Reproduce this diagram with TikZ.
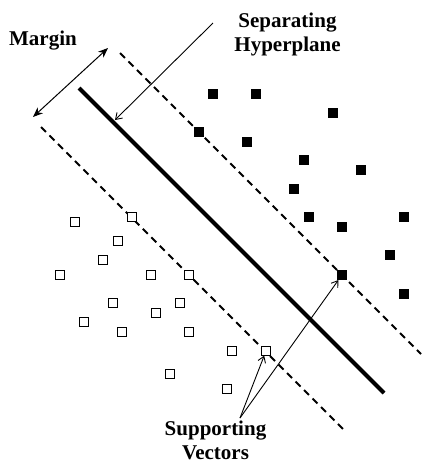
\documentclass[tikz,border=0pt]{standalone}
\usepackage{fontspec}
\setmainfont{Liberation Serif}
\newfontfamily\lblbold{Liberation Serif Bold}
\usetikzlibrary{arrows.meta}
\begin{document}
\begin{tikzpicture}[x=1pt,y=-1pt,
  fsq/.style={fill=black,draw=none,minimum size=10pt,inner sep=0pt,outer sep=0pt},
  osq/.style={draw=black,fill=white,line width=0.8pt,minimum size=9.2pt,inner sep=0pt,outer sep=0pt},
  lbl/.style={font=\lblbold\fontsize{21}{24}\selectfont,anchor=base,inner sep=0pt},
  hyper/.style={line width=4pt},
  marginline/.style={line width=1.8pt,dash pattern=on 7pt off 5pt},
  pointer/.style={line width=0.9pt,-{Straight Barb[length=6pt,width=8pt]}},
  dblarrow/.style={line width=1pt,{Stealth[length=10pt,width=8pt]}-{Stealth[length=10pt,width=8pt]}}
]
\useasboundingbox (0,0) rectangle (422,464);

% lines
\coordinate (h1) at (79,88);
\coordinate (h2) at (384,393);
\coordinate (u1) at (120,53);
\coordinate (u2) at (421,354);
\coordinate (l1) at (41,127);
\coordinate (l2) at (345,431);
\draw[hyper] (h1) -- (h2);
\draw[marginline] (u1) -- (u2);
\draw[marginline] (l1) -- (l2);

% filled squares
\foreach \n/\x/\y in {f1/213/94,f2/256/94,f3/333/113,f4/199/132,f5/247/142,f6/304/160,f7/361/170,f8/294/189,f9/309/217,f10/342/227,f11/404/217,f12/390/255,f14/404/294}
  \node[fsq] (\n) at (\x,\y) {};
\node[fsq] (sv2) at (342,275) {};

% open squares
\foreach \n/\x/\y in {o1/75/222,o2/132/217,o3/118/241,o4/103/260,o5/60/275,o6/151/275,o7/189/275,o8/113/303,o9/180/303,o10/156/313,o11/84/322,o12/122/332,o13/189/332,o14/232/351,o16/170/374,o17/227/389}
  \node[osq] (\n) at (\x,\y) {};
\node[osq] (sv1) at (266,351) {};

% labels
\node[lbl] (margin) at (43,45) {Margin};
\node[lbl] (sep1) at (287.5,27) {Separating};
\node[lbl] (sep2) at (287.5,51) {Hyperplane};
\node[lbl] (sup1) at (215.5,435) {Supporting};
\node[lbl] (sup2) at (215.5,459) {Vectors};

% arrows
\coordinate (ma) at (33,117);
\coordinate (mb) at (108,48);
\draw[dblarrow] (ma) -- (mb);
\coordinate (hs) at (213,23);
\coordinate (ht) at (115,120);
\draw[pointer] (hs) -- (ht);
\coordinate (apex) at (240,418);
\draw[pointer] (apex) -- (sv1);
\draw[pointer] (apex) -- (sv2);
\end{tikzpicture}
\end{document}
